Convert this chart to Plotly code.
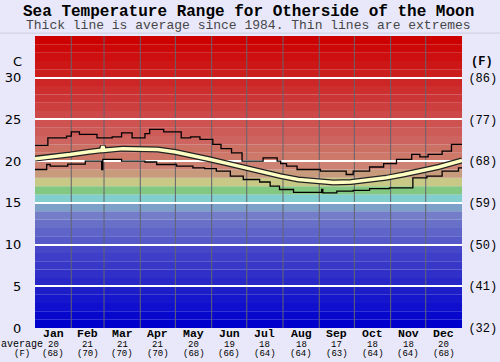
import plotly.graph_objects as go

# ---------------- data ----------------
months = ["Jan", "Feb", "Mar", "Apr", "May", "Jun", "Jul", "Aug", "Sep", "Oct", "Nov", "Dec"]
month_avg_c = [20, 21, 21, 21, 20, 19, 18, 18, 17, 18, 18, 20]
month_avg_f = [68, 70, 70, 70, 68, 66, 64, 64, 63, 64, 64, 68]
month_start_day = [0, 31, 59, 90, 120, 151, 181, 212, 243, 273, 304, 334, 365]

avg_days = [0, 15, 30, 45, 57, 58, 59, 75, 90, 105, 120, 135, 150, 165, 180, 195, 210,
            225, 240, 255, 270, 285, 300, 315, 330, 345, 365]
avg_vals = [20.3, 20.5, 20.8, 21.1, 21.3, 21.8, 21.3, 21.5, 21.5, 21.4, 21.1, 20.7, 20.2,
            19.7, 19.2, 18.6, 18.2, 17.8, 17.6, 17.45, 17.5, 17.7, 18.0, 18.4, 18.8, 19.3, 20.1]

max_days = [0, 11, 27, 31, 38, 53, 66, 74, 83, 94, 98, 110, 125, 133, 141, 152, 159, 168,
            177, 195, 207, 210, 215, 224, 244, 252, 266, 272, 286, 298, 309, 322, 329, 336,
            348, 356, 365]
max_vals = [21.9, 22.8, 23.0, 23.5, 23.2, 22.8, 22.9, 23.4, 22.8, 23.3, 23.8, 23.5, 22.8,
            22.9, 22.6, 22.0, 21.5, 21.0, 20.0, 20.4, 20.0, 19.7, 19.4, 19.0, 18.8, 18.8,
            18.4, 18.8, 19.3, 19.7, 20.2, 20.8, 20.5, 20.8, 21.2, 22.0, 22.0]

min_days = [0, 10, 13, 28, 43, 57, 58, 74, 94, 104, 121, 135, 145, 155, 167, 178, 192, 201,
            209, 221, 245, 246, 258, 272, 286, 303, 323, 335, 348, 362, 365]
min_vals = [19.0, 19.6, 19.4, 19.65, 20.0, 19.0, 20.2, 20.0, 19.9, 19.6, 19.4, 19.2, 19.1,
            18.8, 18.2, 17.8, 17.5, 17.0, 16.6, 16.25, 16.6, 16.2, 16.4, 16.5, 16.7, 16.8,
            18.0, 18.2, 18.8, 19.2, 19.2]

c_ticks = [0, 5, 10, 15, 20, 25, 30]
f_ticks = ["(32)", "(41)", "(50)", "(59)", "(68)", "(77)", "(86)"]

# background colour per 1-degree band, from 0-1 C up to 34-35 C
band_colors = [
    (0, 0, 205), (8, 8, 205), (15, 15, 205), (22, 22, 205), (30, 30, 200),
    (40, 40, 200), (48, 48, 200), (55, 55, 200), (62, 62, 200), (70, 70, 200),
    (85, 90, 200), (95, 100, 200), (105, 112, 200), (115, 125, 200), (125, 160, 200),
    (130, 205, 205), (130, 200, 130), (200, 200, 135), (200, 155, 125), (205, 130, 115),
    (205, 120, 105), (205, 112, 100), (205, 100, 95), (205, 92, 88), (205, 82, 80),
    (205, 72, 72), (205, 62, 62), (205, 54, 54), (205, 46, 46), (205, 38, 38),
    (205, 30, 30), (205, 22, 22), (205, 15, 15), (205, 8, 8), (205, 0, 0),
]

MONO = "Courier New, Courier, Nimbus Mono PS, FreeMono, Liberation Mono, monospace"
SANS = "DejaVu Sans, Verdana, sans-serif"

fig = go.Figure()

# min / max extremes
fig.add_trace(go.Scatter(x=max_days, y=max_vals, mode="lines", line=dict(color="black", width=1.3, shape="hv"),
                         hoverinfo="skip", showlegend=False))
fig.add_trace(go.Scatter(x=min_days, y=min_vals, mode="lines", line=dict(color="black", width=1.3, shape="hv"),
                         hoverinfo="skip", showlegend=False))
# average: dark outline + pale yellow core
fig.add_trace(go.Scatter(x=avg_days, y=avg_vals, mode="lines", line=dict(color="#222", width=6),
                         hoverinfo="skip", showlegend=False))
fig.add_trace(go.Scatter(x=avg_days, y=avg_vals, mode="lines", line=dict(color="#ffffc4", width=3.5),
                         hoverinfo="skip", showlegend=False))
# invisible trace for right axis
fig.add_trace(go.Scatter(x=[0], y=[0], yaxis="y2", mode="markers", marker=dict(opacity=0),
                         hoverinfo="skip", showlegend=False))

shapes = []
for i, (r, g, b) in enumerate(band_colors):
    shapes.append(dict(type="rect", xref="paper", yref="y", x0=0, x1=1, y0=i, y1=i + 1,
                       fillcolor=f"rgb({r},{g},{b})", line=dict(width=0), layer="below"))
for d in month_start_day[1:-1]:
    shapes.append(dict(type="line", xref="x", yref="paper", x0=d, x1=d, y0=0, y1=1,
                       line=dict(color="rgb(100,100,110)", width=1), layer="between"))
# faint panel frame
shapes.append(dict(type="line", xref="paper", yref="paper", x0=-0.09, x1=1.09, y0=1.01, y1=1.01,
                   line=dict(color="rgb(205,205,225)", width=1)))

annotations = []
centers = [(month_start_day[i] + month_start_day[i + 1]) / 2 for i in range(12)]
for cx, m, c, f in zip(centers, months, month_avg_c, month_avg_f):
    annotations.append(dict(x=cx, y=0, xref="x", yref="paper", text=f"<b>{m}</b>", showarrow=False,
                            yanchor="middle", yshift=-5, font=dict(family=MONO, size=11.5, color="black")))
    annotations.append(dict(x=cx, y=0, xref="x", yref="paper", text=str(c), showarrow=False,
                            yanchor="middle", yshift=-16.5, font=dict(family=MONO, size=9, color="black")))
    annotations.append(dict(x=cx, y=0, xref="x", yref="paper", text=f"({f})", showarrow=False,
                            yanchor="middle", yshift=-26, font=dict(family=MONO, size=9, color="black")))
annotations.append(dict(x=0, y=0, xref="paper", yref="paper", text="average", showarrow=False,
                        xanchor="center", yanchor="middle", xshift=-13, yshift=-16.5,
                        font=dict(family=MONO, size=10, color="black")))
annotations.append(dict(x=0, y=0, xref="paper", yref="paper", text="(F)", showarrow=False,
                        xanchor="center", yanchor="middle", xshift=-13, yshift=-26,
                        font=dict(family=MONO, size=9, color="black")))
annotations.append(dict(x=0, y=1, xref="paper", yref="paper", text="C", showarrow=False,
                        xanchor="center", yanchor="middle", xshift=-18, yshift=-25,
                        font=dict(family=SANS, size=13, color="black")))
annotations.append(dict(x=1, y=1, xref="paper", yref="paper", text="<b>(F)</b>", showarrow=False,
                        xanchor="center", yanchor="middle", xshift=20, yshift=-26,
                        font=dict(family=MONO, size=12, color="black")))
# titles
annotations.append(dict(x=0.5, y=1, xref="paper", yref="paper", text="<b>Sea Temperature Range for Otherside of the Moon</b>",
                        showarrow=False, xanchor="center", yanchor="middle", yshift=24,
                        font=dict(family=MONO, size=16, color="black")))
annotations.append(dict(x=0.5, y=1, xref="paper", yref="paper", text="Thick line is average since 1984. Thin lines are extremes",
                        showarrow=False, xanchor="center", yanchor="middle", yshift=11,
                        font=dict(family=MONO, size=13, color="rgb(70,70,70)")))

fig.update_layout(
    width=500, height=362,
    margin=dict(l=35, r=38, t=36, b=34, autoexpand=False),
    paper_bgcolor="rgb(232,232,250)",
    plot_bgcolor="rgb(232,232,250)",
    shapes=shapes,
    annotations=annotations,
    showlegend=False,
    xaxis=dict(range=[0, 365], showgrid=False, zeroline=False, showticklabels=False, ticks="",
               fixedrange=True, automargin=False),
    yaxis=dict(range=[0, 35], tickvals=c_ticks, showgrid=True, gridcolor="white", gridwidth=1.5,
               zeroline=False, ticks="outside", ticklen=10, tickcolor="rgba(0,0,0,0)",
               tickfont=dict(family=SANS, size=13, color="black"), fixedrange=True, automargin=False),
    yaxis2=dict(range=[0, 35], overlaying="y", side="right", tickvals=c_ticks, ticktext=f_ticks,
                showgrid=False, zeroline=False, ticks="outside", ticklen=3, tickcolor="rgba(0,0,0,0)",
                tickfont=dict(family=MONO, size=12, color="black"), fixedrange=True, automargin=False),
)

fig.write_html("out.html", config={"displayModeBar": False},
               post_script="document.body.style.margin='0';document.body.style.overflow='hidden';")
